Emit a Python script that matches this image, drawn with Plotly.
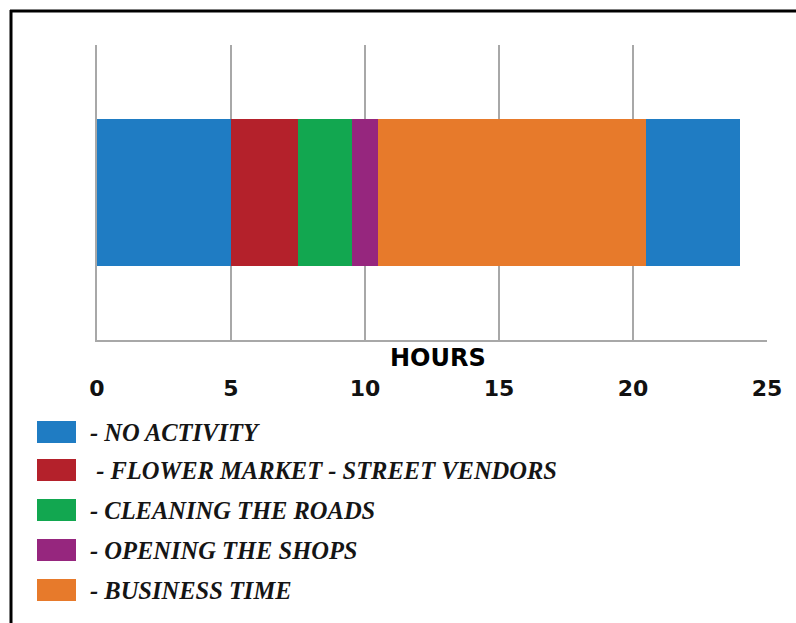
import plotly.graph_objects as go

# Daily timeline segments (hours of the day)
activities = ["NO ACTIVITY", "FLOWER MARKET - STREET VENDORS", "CLEANING THE ROADS",
              "OPENING THE SHOPS", "BUSINESS TIME", "NO ACTIVITY"]
start_hours = [0, 5, 7.5, 9.5, 10.5, 20.5]
end_hours = [5, 7.5, 9.5, 10.5, 20.5, 24]
segment_colors = ["#1f7cc3", "#b4212b", "#12a750", "#96267e", "#e77a2b", "#1f7cc3"]

# Legend entries (key lines below the chart)
legend_labels = ["- NO ACTIVITY", " - FLOWER MARKET - STREET VENDORS", "- CLEANING THE ROADS",
                 "- OPENING THE SHOPS", "- BUSINESS TIME"]
legend_colors = ["#1f7cc3", "#b4212b", "#12a750", "#96267e", "#e77a2b"]

tick_values = [0, 5, 10, 15, 20, 25]
tick_labels = ["0", "5", "10", "15", "20", "25"]

W, H = 796, 623
ML, MR, MT, MB = 97, 29, 45, 283
PW, PH = W - ML - MR, H - MT - MB


def px_x(x):
    return (x - ML) / PW


def px_y(y):
    return (H - MB - y) / PH


fig = go.Figure()
for name, s, e, c in zip(activities, start_hours, end_hours, segment_colors):
    fig.add_trace(go.Bar(
        y=["day"], x=[e - s], base=[s], orientation="h",
        marker=dict(color=c, line=dict(width=0)),
        name=name, showlegend=False, width=0.5,
    ))

grid_col = "#a8a8a8"
shapes = [
    # outer frame: top and left edges
    dict(type="line", xref="paper", yref="paper", x0=px_x(10), x1=px_x(800),
         y0=px_y(11), y1=px_y(11), line=dict(color="black", width=3)),
    dict(type="line", xref="paper", yref="paper", x0=px_x(11), x1=px_x(11),
         y0=px_y(10), y1=px_y(630), line=dict(color="black", width=3)),
]
annotations = [
    dict(text="HOURS", xref="paper", yref="paper", x=px_x(438), y=px_y(358),
         xanchor="center", yanchor="middle", showarrow=False,
         font=dict(family="DejaVu Sans", size=24, color="black", weight="bold")),
]

row_y = [432, 470, 510, 550, 590]
for lbl, col, ry in zip(legend_labels, legend_colors, row_y):
    shapes.append(dict(type="rect", xref="paper", yref="paper",
                       x0=px_x(37), x1=px_x(76), y0=px_y(ry - 11), y1=px_y(ry + 11),
                       fillcolor=col, line=dict(width=0)))
    annotations.append(dict(text=lbl, xref="paper", yref="paper", x=px_x(88), y=px_y(ry),
                            xanchor="left", yanchor="middle", showarrow=False,
                            font=dict(family="Liberation Serif", size=24.5, color="#151515",
                                      weight="bold", style="italic")))

fig.update_layout(
    width=W, height=H,
    margin=dict(l=ML, r=MR, t=MT, b=MB),
    paper_bgcolor="white", plot_bgcolor="white",
    barmode="stack", bargap=0.5,
    shapes=shapes, annotations=annotations,
    xaxis=dict(range=[0, 25], tickvals=tick_values, ticktext=tick_labels,
               showgrid=True, gridcolor=grid_col, gridwidth=2, zeroline=False,
               showline=True, linecolor=grid_col, linewidth=2, ticks="",
               ticklabelstandoff=28,
               tickfont=dict(family="DejaVu Sans", size=22, color="#111", weight="bold")),
    yaxis=dict(range=[-0.5, 0.5], showgrid=False, zeroline=False, showticklabels=False,
               showline=True, linecolor=grid_col, linewidth=2, ticks=""),
)

fig.write_html("out.html")
